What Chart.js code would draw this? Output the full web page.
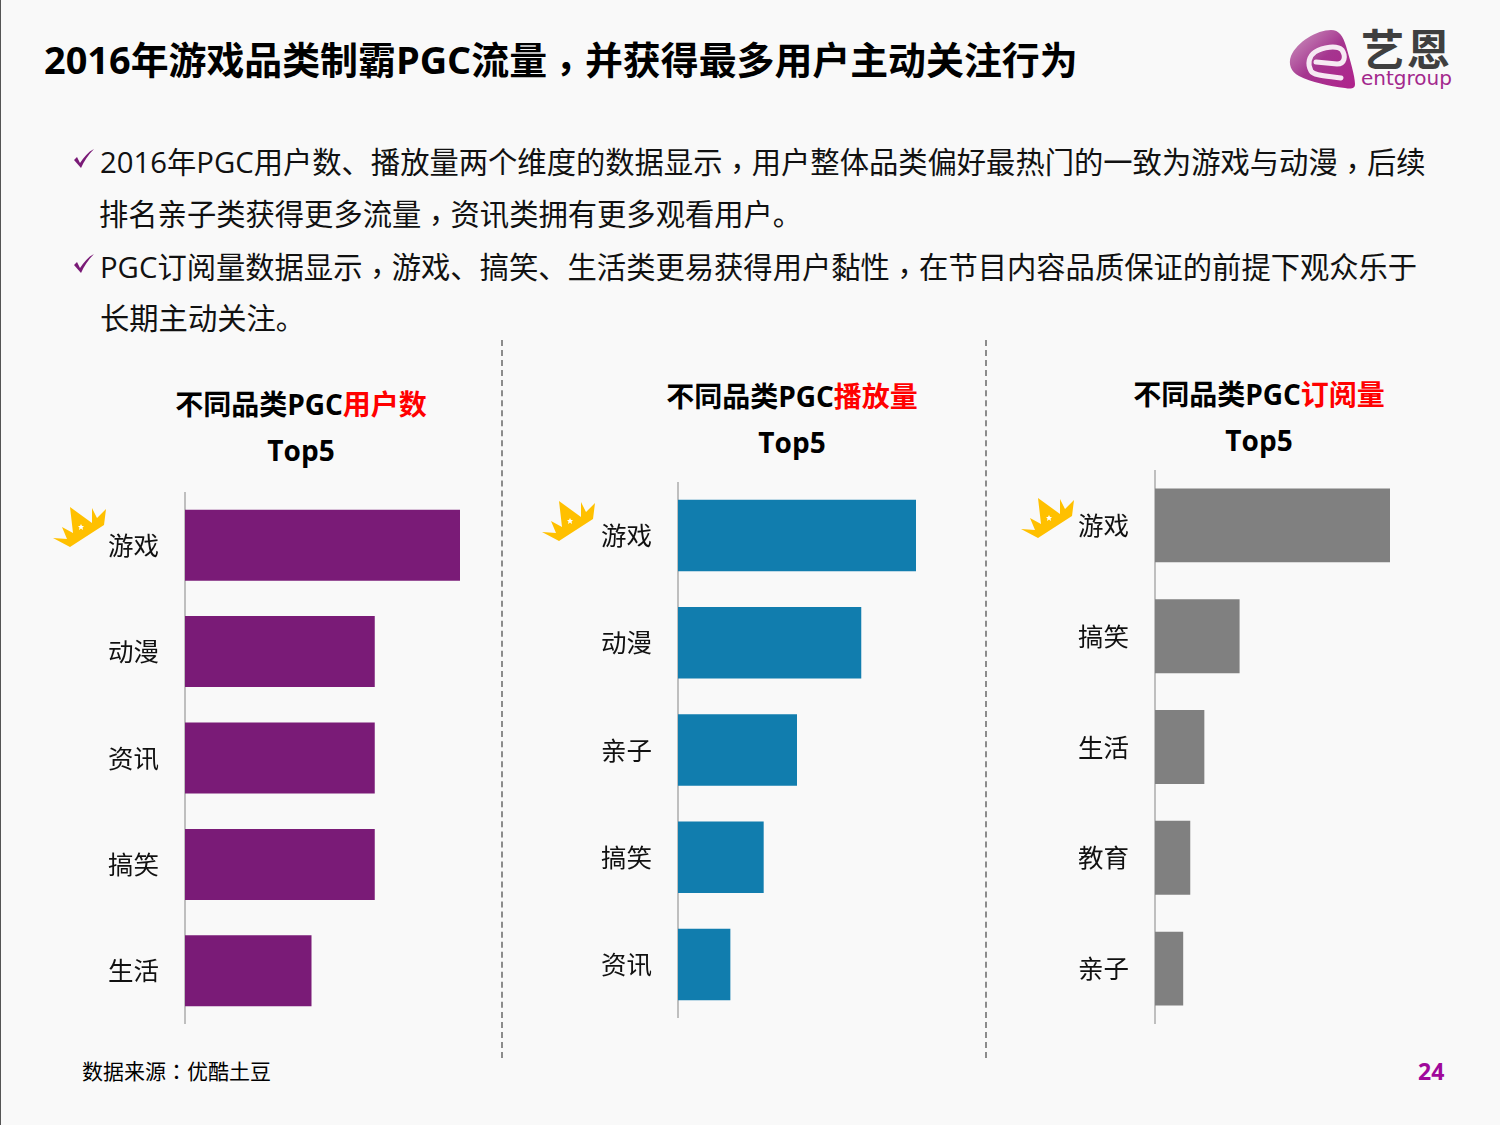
<!DOCTYPE html>
<html lang="zh"><head><meta charset="utf-8">
<script src="https://cdn.jsdelivr.net/npm/chart.js@4"></script>
<style>
html,body{margin:0;padding:0;background:#f9f9f9;}
#page{position:relative;width:1500px;height:1125px;overflow:hidden;background:#f9f9f9;font-family:"Open Sans","Noto Sans CJK SC",sans-serif;color:#000;}
#page>*{position:absolute;}
.t{white-space:nowrap;line-height:1;}
.edge{left:0;top:0;width:1px;height:1125px;background:#555;}
.dash{width:0;border-left:2px dashed #8c8c8c;top:340px;height:718px;}
canvas{display:block;}
.cw{position:absolute;}
.red{color:#f00;}
.p{font-family:"Noto Sans CJK TC";position:relative;top:.2em;}
.ct{font-weight:700;font-size:28px;text-align:center;transform:translateX(-50%);}
.ct .h1{position:relative;top:1px;}
</style></head><body>
<div id="page">
<div class="edge"></div>
<div class="t" id="title" style="left:44px;top:39px;font-size:37.9px;font-weight:700;"></div>
<svg style="left:1285px;top:14px" width="175" height="84" viewBox="0 0 175 84">
<defs><linearGradient id="lg" x1="0" y1="0" x2="1" y2="1"><stop offset="0" stop-color="#cf9cc2"/><stop offset=".5" stop-color="#a5358f"/><stop offset="1" stop-color="#b0228c"/></linearGradient></defs>
<path d="M6 42 C12 28 32 16 46 16 C54 16 58 22 61 32 C65 46 70 62 70 70 C70 75 66 75 60 74 C44 72 26 68 14 62 C6 58 3 50 6 42Z" fill="url(#lg)"/>
<path d="M31 48 L52 50 C60 50 61 42 57 36 C52 31 38 33 30 38 C24 42 22 50 26 57 C29 62 42 62 56 64" fill="none" stroke="#f6e9f3" stroke-width="5" stroke-linecap="round"/>
<text x="76" y="52" font-family="Noto Sans CJK SC" font-weight="700" font-size="43" letter-spacing="3" fill="#3f3f3f">艺恩</text>
<text x="76" y="71" font-family="DejaVu Sans" font-size="19" fill="#a3288d" textLength="91" lengthAdjust="spacingAndGlyphs">entgroup</text>
</svg>
<div class="dash" style="left:501px"></div>
<div class="dash" style="left:985px"></div>
<div class="t" id="source" style="left:82px;top:1060px;font-size:21px;"></div>
<div class="t" id="pageNo" style="left:1418px;top:1060px;font-size:23px;font-weight:700;color:#a0089b;"></div>
</div>
<script>
const titleText = "2016年游戏品类制霸PGC流量，并获得最多用户主动关注行为";
const bulletLines = [
  "2016年PGC用户数、播放量两个维度的数据显示，用户整体品类偏好最热门的一致为游戏与动漫，后续",
  "排名亲子类获得更多流量，资讯类拥有更多观看用户。",
  "PGC订阅量数据显示，游戏、搞笑、生活类更易获得用户黏性，在节目内容品质保证的前提下观众乐于",
  "长期主动关注。"
];
const sourceText = "数据来源：优酷土豆";
const pageNumber = "24";

const usersCategories = ["游戏","动漫","资讯","搞笑","生活"];
const usersValues = [100,69,69,69,46];
const playsCategories = ["游戏","动漫","亲子","搞笑","资讯"];
const playsValues = [100,77,50,36,22];
const subsCategories = ["游戏","搞笑","生活","教育","亲子"];
const subsValues = [100,36,21,15,12];

const panels = [
 {head:"不同品类PGC",hot:"用户数",cats:usersCategories,vals:usersValues,color:"#7a1b77",axisX:185,top:492,h:532,w:275,cx:301,ty:380,crown:[52,505]},
 {head:"不同品类PGC",hot:"播放量",cats:playsCategories,vals:playsValues,color:"#117dae",axisX:678,top:482,h:536,w:238,cx:792,ty:372,crown:[541,499]},
 {head:"不同品类PGC",hot:"订阅量",cats:subsCategories,vals:subsValues,color:"#808080",axisX:1155,top:470,h:554,w:235,cx:1259,ty:370,crown:[1020,496]}
];

const page = document.getElementById("page");
const punct = s => s.replace(/[，：]/g, m => `<span class="p" lang="zh-TW">${m}</span>`);
document.getElementById("title").innerHTML = punct(titleText);
document.getElementById("source").innerHTML = sourceText.replace("：",'<span class="p" lang="zh-TW" style="top:0">：</span>');
document.getElementById("pageNo").textContent = pageNumber;

const bulletTop = [146,198,251,304], bulletLeft=[100,99,100,100];
bulletLines.forEach((s,i)=>{
  const d=document.createElement("div");
  d.className="t"; d.innerHTML=punct(s);
  d.style.cssText=`left:${bulletLeft[i]}px;top:${bulletTop[i]}px;font-size:29.3px;color:#111;position:absolute;`;
  page.appendChild(d);
});
[147,252].forEach(y=>{
  const n=document.createElementNS("http://www.w3.org/2000/svg","svg");
  n.setAttribute("width","24");n.setAttribute("height","24");
  n.style.cssText=`left:72px;top:${y}px;`;
  n.innerHTML='<path d="M2 13 L5 10 L8 16 C12 10 16 5 22 2 C16 8 12 14 9 21 Z" fill="#7a1b77"/>';
  page.appendChild(n);
});

const AXIS_W = 100;
panels.forEach(p=>{
  const h=document.createElement("div");
  h.className="t ct";
  h.style.cssText=`left:${p.cx}px;top:${p.ty}px;position:absolute;line-height:47px;`;
  h.innerHTML=`<div class="h1">${p.head}<span class="red">${p.hot}</span></div><div>Top5</div>`;
  page.appendChild(h);

  const wrap=document.createElement("div");
  wrap.className="cw";
  wrap.style.cssText=`left:${p.axisX-AXIS_W}px;top:${p.top}px;width:${AXIS_W+p.w}px;height:${p.h}px;`;
  const c=document.createElement("canvas");
  c.width=AXIS_W+p.w; c.height=p.h;
  wrap.appendChild(c); page.appendChild(wrap);
  new Chart(c,{type:"bar",
    data:{labels:p.cats,datasets:[{data:p.vals,backgroundColor:p.color,barPercentage:0.667,categoryPercentage:1}]},
    options:{indexAxis:"y",responsive:false,animation:false,devicePixelRatio:1,
      layout:{padding:0},
      plugins:{legend:{display:false},tooltip:{enabled:false}},
      scales:{
        x:{display:false,min:0,max:100},
        y:{afterFit(s){s.width=AXIS_W;s.paddingTop=0;s.paddingBottom=0;},grid:{display:false,drawTicks:false},
           border:{color:"#bfbfbf",width:2},
           ticks:{color:"#111",padding:26,font:{family:'"Noto Sans CJK SC"',size:25.5}}}
      }}
  });
  const crown=document.createElementNS("http://www.w3.org/2000/svg","svg");
  crown.setAttribute("width","56");crown.setAttribute("height","46");crown.setAttribute("viewBox","0 0 56 46");
  crown.style.cssText=`left:${p.crown[0]}px;top:${p.crown[1]}px;`;
  crown.innerHTML='<path d="M1 33 L15 34 L10 22 L21 28 L18 2 L40 18 L40 3 L45 13 L54 4 L52 20 L18 42 Z" fill="#ffc000"/><path d="M29 19 L30 21 L32 21 L30.5 22.5 L31 25 L29 23.5 L27 25 L27.5 22.5 L26 21 L28 21Z" fill="#fff"/>';
  page.appendChild(crown);
});
</script>
</body></html>
